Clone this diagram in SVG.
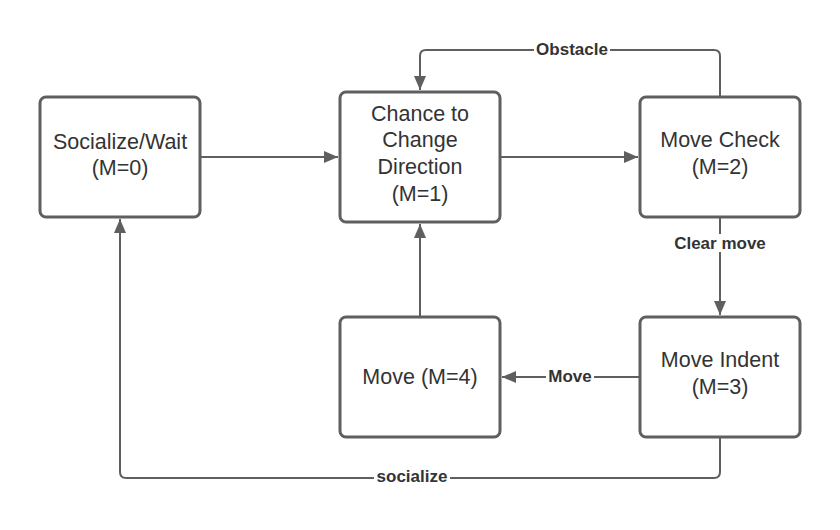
<svg xmlns="http://www.w3.org/2000/svg" width="840" height="530" viewBox="0 0 840 530">
<defs>
<style>
.box{fill:#fff;stroke:#5f5f5f;stroke-width:3}
.nt{font-family:"Liberation Sans",Arial,sans-serif;font-size:21.5px;fill:#333;text-anchor:middle}
.ln{fill:none;stroke:#5f5f5f;stroke-width:2;stroke-linejoin:round}
.lb{font-family:"Liberation Sans",Arial,sans-serif;font-size:17px;font-weight:bold;fill:#333;text-anchor:middle}
.bg{fill:#fff}
</style>
<marker id="ah" viewBox="0 0 14 12" refX="14" refY="6" markerWidth="14" markerHeight="12" markerUnits="userSpaceOnUse" orient="auto">
<path d="M0,0 L14,6 L0,12 Z" fill="#5f5f5f"/>
</marker>
</defs>
<rect width="840" height="530" fill="#fff"/>
<g id="connectors">
<path class="ln" d="M201,157 H338" marker-end="url(#ah)"/>
<path class="ln" d="M501,157 H638" marker-end="url(#ah)"/>
<path class="ln" d="M720,96 V56 Q720,50 714,50 H426 Q420,50 420,56 V90" marker-end="url(#ah)"/>
<path class="ln" d="M720,218 V315" marker-end="url(#ah)"/>
<path class="ln" d="M639,377 H502" marker-end="url(#ah)"/>
<path class="ln" d="M420,316 V224" marker-end="url(#ah)"/>
<path class="ln" d="M720,438 V472 Q720,478 714,478 H126 Q120,478 120,472 V219" marker-end="url(#ah)"/>
<rect class="bg" x="534" y="40" width="76" height="18"/>
<text class="lb" x="572" y="55">Obstacle</text>
<rect class="bg" x="671" y="234" width="98" height="18"/>
<text class="lb" x="720" y="249">Clear move</text>
<rect class="bg" x="546" y="368" width="48" height="18"/>
<text class="lb" x="570" y="382">Move</text>
<rect class="bg" x="374" y="468" width="76" height="18"/>
<text class="lb" x="412" y="482">socialize</text>
</g>
<g id="n0">
<rect class="box" x="40" y="97" width="160" height="120" rx="6"/>
<text class="nt" x="120" y="149">Socialize/Wait</text>
<text class="nt" x="120" y="175">(M=0)</text>
</g>
<g id="n1">
<rect class="box" x="340" y="92" width="160" height="130" rx="6"/>
<text class="nt" x="420" y="121">Chance to</text>
<text class="nt" x="420" y="147">Change</text>
<text class="nt" x="420" y="174">Direction</text>
<text class="nt" x="420" y="201">(M=1)</text>
</g>
<g id="n2">
<rect class="box" x="640" y="97" width="160" height="120" rx="6"/>
<text class="nt" x="720" y="147">Move Check</text>
<text class="nt" x="720" y="174">(M=2)</text>
</g>
<g id="n3">
<rect class="box" x="640" y="317" width="160" height="120" rx="6"/>
<text class="nt" x="720" y="367">Move Indent</text>
<text class="nt" x="720" y="394">(M=3)</text>
</g>
<g id="n4">
<rect class="box" x="340" y="317" width="160" height="120" rx="6"/>
<text class="nt" x="420" y="384">Move (M=4)</text>
</g>
</svg>
